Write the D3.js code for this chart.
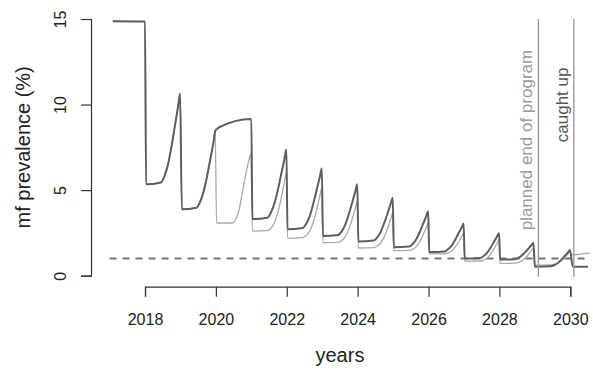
<!DOCTYPE html>
<html>
<head>
<meta charset="utf-8">
<script src="https://cdn.jsdelivr.net/npm/d3@7"></script>
<style>
  html, body { margin: 0; padding: 0; background: #fff; }
  svg { display: block; font-family: "Liberation Sans", Arial, Helvetica, sans-serif; }
</style>
</head>
<body>
<svg id="chart" width="593" height="376"></svg>
<script>
// ---- data ----
const xTicks = [2018, 2020, 2022, 2024, 2026, 2028, 2030];
const yTicks = [0, 5, 10, 15];
const xLabel = "years";
const yLabel = "mf prevalence (%)";
const threshold = 1;
const thresholdRange = [2017.0, 2030.55];
const eventYears = [2029.1, 2030.1];
const eventLabels = ["planned end of program", "caught up"];
const eventLabelAt = [2.65, 7.8];

// darker series: [year, mf prevalence %]
const darkSeries = [
  [2017.09, 14.87], [2018.0, 14.85], [2018.03, 5.34],
  [2018.45, 5.45], [2018.55, 5.82], [2018.65, 6.51], [2018.75, 7.57], [2018.85, 8.84], [2018.93, 9.85], [2018.99, 10.64],
  [2019.04, 3.88], [2019.45, 3.97], [2019.55, 4.29], [2019.65, 4.89], [2019.75, 5.80], [2019.85, 6.90], [2019.93, 7.76], [2019.98, 8.45],
  [2020.03, 8.58], [2020.08, 8.66], [2021.0, 9.16],
  [2021.03, 3.31], [2021.45, 3.39], [2021.55, 3.68], [2021.65, 4.21], [2021.75, 5.02], [2021.85, 6.00], [2021.93, 6.78], [2021.99, 7.39],
  [2022.02, 2.72], [2022.45, 2.79], [2022.55, 3.04], [2022.65, 3.50], [2022.75, 4.22], [2022.85, 5.07], [2022.93, 5.75], [2022.99, 6.28],
  [2023.02, 2.32], [2023.45, 2.38], [2023.55, 2.59], [2023.65, 2.98], [2023.75, 3.59], [2023.85, 4.31], [2023.93, 4.89], [2023.99, 5.34],
  [2024.02, 2.00], [2024.45, 2.05], [2024.55, 2.23], [2024.65, 2.56], [2024.75, 3.08], [2024.85, 3.69], [2024.93, 4.18], [2024.99, 4.56],
  [2025.02, 1.66], [2025.45, 1.70], [2025.55, 1.85], [2025.65, 2.12], [2025.75, 2.54], [2025.85, 3.05], [2025.93, 3.45], [2025.99, 3.76],
  [2026.02, 1.39], [2026.45, 1.42], [2026.55, 1.54], [2026.65, 1.76], [2026.75, 2.09], [2026.85, 2.49], [2026.93, 2.80], [2026.99, 3.05],
  [2027.02, 1.00], [2027.45, 1.03], [2027.55, 1.14], [2027.65, 1.33], [2027.75, 1.63], [2027.85, 1.99], [2027.93, 2.28], [2027.99, 2.50],
  [2028.02, 0.94], [2028.42, 0.96], [2028.52, 1.03], [2028.62, 1.16], [2028.72, 1.36], [2028.82, 1.59], [2028.90, 1.78], [2028.96, 1.93],
  [2029.0, 0.53], [2029.45, 0.55], [2029.55, 0.62], [2029.65, 0.74], [2029.75, 0.94], [2029.85, 1.17], [2029.93, 1.35], [2029.99, 1.50],
  [2030.07, 0.53], [2030.5, 0.53]
];

// lighter series: [year, mf prevalence %]
const lightSeries = [
  [2017.09, 14.87], [2018.0, 14.85], [2018.03, 5.34],
  [2018.45, 5.45], [2018.55, 5.82], [2018.65, 6.51], [2018.75, 7.57], [2018.85, 8.84], [2018.93, 9.85], [2018.99, 10.64],
  [2019.04, 3.88], [2019.45, 3.97], [2019.55, 4.29], [2019.65, 4.89], [2019.75, 5.80], [2019.85, 6.90], [2019.93, 7.76], [2019.98, 8.45],
  [2020.02, 3.08], [2020.45, 3.08], [2020.55, 3.24], [2020.65, 3.81], [2020.75, 4.90], [2020.85, 5.99], [2020.93, 6.72], [2020.99, 7.12],
  [2021.03, 2.60], [2021.45, 2.63], [2021.55, 2.77], [2021.65, 3.08], [2021.75, 3.70], [2021.85, 4.60], [2021.93, 5.43], [2021.99, 6.05],
  [2022.02, 2.20], [2022.45, 2.23], [2022.55, 2.35], [2022.65, 2.61], [2022.75, 3.14], [2022.85, 3.91], [2022.93, 4.62], [2022.99, 5.15],
  [2023.02, 1.93], [2023.45, 1.95], [2023.55, 2.05], [2023.65, 2.27], [2023.75, 2.70], [2023.85, 3.33], [2023.93, 3.91], [2023.99, 4.35],
  [2024.02, 1.62], [2024.45, 1.64], [2024.55, 1.72], [2024.65, 1.91], [2024.75, 2.27], [2024.85, 2.80], [2024.93, 3.29], [2024.99, 3.66],
  [2025.02, 1.46], [2025.45, 1.48], [2025.55, 1.54], [2025.65, 1.69], [2025.75, 1.98], [2025.85, 2.40], [2025.93, 2.79], [2025.99, 3.08],
  [2026.02, 1.27], [2026.45, 1.28], [2026.55, 1.33], [2026.65, 1.44], [2026.75, 1.66], [2026.85, 1.97], [2026.93, 2.26], [2026.99, 2.48],
  [2027.02, 0.85], [2027.45, 0.86], [2027.55, 0.91], [2027.65, 1.02], [2027.75, 1.25], [2027.85, 1.57], [2027.93, 1.87], [2027.99, 2.09],
  [2028.02, 0.72], [2028.42, 0.73], [2028.52, 0.77], [2028.62, 0.85], [2028.72, 1.01], [2028.82, 1.24], [2028.90, 1.46], [2028.96, 1.62],
  [2029.0, 0.62], [2029.45, 0.63], [2029.55, 0.66], [2029.65, 0.73], [2029.75, 0.87], [2029.85, 1.07], [2029.93, 1.26], [2029.99, 1.40],
  [2030.05, 1.22], [2030.55, 1.33]
];

// ---- chart ----
const svg = d3.select("#chart");
const x = d3.scaleLinear().domain([2018, 2030]).range([145, 570.3]);
const y = d3.scaleLinear().domain([0, 15]).range([275.7, 19]);
const axisColor = "#333";
const font = "\"Liberation Sans\", Arial, Helvetica, sans-serif";

// threshold dashed line
svg.append("line")
  .attr("x1", x(thresholdRange[0])).attr("x2", x(thresholdRange[1]))
  .attr("y1", y(threshold)).attr("y2", y(threshold))
  .attr("stroke", "#777").attr("stroke-width", 2)
  .attr("stroke-dasharray", "7,6");

const line = d3.line().x(d => x(d[0])).y(d => y(d[1])).curve(d3.curveMonotoneX);

svg.append("path").datum(lightSeries)
  .attr("d", line).attr("fill", "none")
  .attr("stroke", "#a9a9a9").attr("stroke-width", 1.3).attr("stroke-linejoin", "round");

svg.append("path").datum(darkSeries)
  .attr("d", line).attr("fill", "none")
  .attr("stroke", "#5e5e5e").attr("stroke-width", 2).attr("stroke-linejoin", "round");

// event vertical lines
svg.selectAll(".evt").data(eventYears).enter().append("line")
  .attr("class", "evt")
  .attr("x1", d => x(d)).attr("x2", d => x(d))
  .attr("y1", y(15)).attr("y2", y(-0.06))
  .attr("stroke", "#999").attr("stroke-width", 1.4);

const evtColors = ["#9a9a9a", "#555"];
svg.selectAll(".evtlab").data(eventLabels).enter().append("text")
  .attr("class", "evtlab")
  .attr("transform", (d, i) => `translate(${x(eventYears[i]) - 6},${y(eventLabelAt[i])}) rotate(-90)`)
  .attr("text-anchor", "start")
  .attr("font-size", 17)
  .attr("fill", (d, i) => evtColors[i])
  .text(d => d);

// x axis
const xAxis = d3.axisBottom(x).tickValues(xTicks).tickFormat(d3.format("d")).tickSize(10).tickPadding(17);
const gx = svg.append("g").attr("transform", "translate(0,286.7)").call(xAxis);
gx.select(".domain").attr("stroke", axisColor).attr("stroke-width", 1.2);
gx.selectAll(".tick line").attr("stroke", axisColor).attr("stroke-width", 1.2);
gx.selectAll(".tick text").attr("fill", "#222").attr("font-size", 16).attr("font-family", font);

// y axis
const yAxis = d3.axisLeft(y).tickValues(yTicks).tickSize(10).tickFormat(d3.format("d"));
const gy = svg.append("g").attr("transform", "translate(91,0)").call(yAxis);
gy.select(".domain").attr("stroke", axisColor).attr("stroke-width", 1.2);
gy.selectAll(".tick line").attr("stroke", axisColor).attr("stroke-width", 1.2);
gy.selectAll(".tick text")
  .attr("fill", "#222").attr("font-size", 16).attr("font-family", font)
  .attr("x", null).attr("dy", null)
  .attr("text-anchor", "middle")
  .attr("transform", "translate(-25.5,0) rotate(-90)");

// axis titles
svg.append("text")
  .attr("x", x(2023.5)).attr("y", 362)
  .attr("text-anchor", "middle").attr("font-size", 20).attr("fill", "#222")
  .text(xLabel);

svg.append("text")
  .attr("transform", `translate(29.5,${(y(0) + y(15)) / 2}) rotate(-90)`)
  .attr("text-anchor", "middle").attr("font-size", 20).attr("fill", "#222")
  .text(yLabel);
</script>
</body>
</html>
